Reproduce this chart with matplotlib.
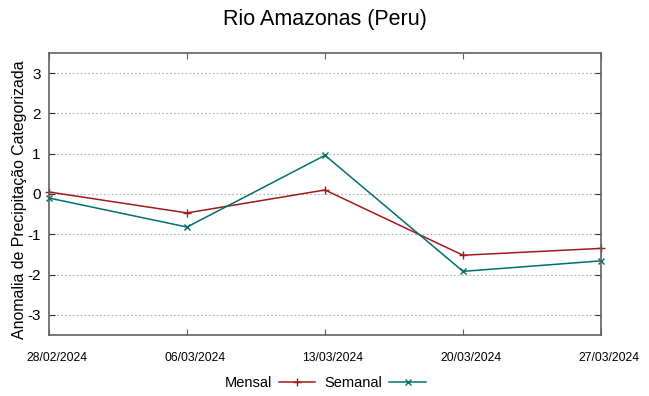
import numpy as np
import matplotlib.pyplot as plt
import matplotlib.transforms as mtransforms
from datetime import datetime

plt.rcParams['font.family'] = ['Liberation Sans', 'DejaVu Sans']

# Dados
datas = ['28/02/2024', '06/03/2024', '13/03/2024', '20/03/2024', '27/03/2024']
mensal = [0.05, -0.47, 0.10, -1.52, -1.35]
semanal = [-0.10, -0.82, 0.96, -1.92, -1.66]
yticks = [-3, -2, -1, 0, 1, 2, 3]

x = [datetime.strptime(d, '%d/%m/%Y') for d in datas]

fig = plt.figure(figsize=(6.49, 3.96), dpi=100)
ax = fig.add_axes([49 / 649, 1 - 335 / 396, (601 - 49) / 649, (335 - 53) / 396])

ax.plot(x, mensal, color='#a01a1a', lw=1.1, marker='+', ms=6, mew=1.0,
        label='Mensal', clip_on=False)
ax.plot(x, semanal, color='#00706b', lw=1.1, marker='x', ms=5, mew=1.0,
        label='Semanal', clip_on=False)

ax.set_xlim(x[0], x[-1])
ax.set_ylim(-3.5, 3.5)
ax.set_xticks(x)
ax.set_xticklabels(datas, fontsize=8.7)
ax.set_yticks(yticks)
ax.set_yticklabels([str(v) for v in yticks], fontsize=11)
ax.grid(axis='y', color='#b0b0b0', linestyle=(0, (1.5, 2)), lw=0.8)
ax.tick_params(axis='x', direction='in', top=True, length=4, pad=12, color='#606060')
ax.tick_params(axis='y', direction='in', right=True, length=4, pad=6, color='#303030')
for s in ax.spines.values():
    s.set_color('#606060')
    s.set_linewidth(1.2)

# rótulos do eixo x deslocados um pouco para a direita (como no gnuplot)
desloc = mtransforms.ScaledTranslation(8 / 100, 0, fig.dpi_scale_trans)
for lbl in ax.get_xticklabels():
    lbl.set_transform(lbl.get_transform() + desloc)

ax.set_title('Rio Amazonas (Peru)', fontsize=15.5, pad=20)
ax.set_ylabel('Anomalia de Precipitação Categorizada', fontsize=11.4)
ax.yaxis.set_label_coords(-0.040, 0.48)

leg = ax.legend(loc='upper center', bbox_to_anchor=(0.5, -0.1), ncol=2,
                frameon=False, fontsize=10.5, markerfirst=False,
                handlelength=2.5, columnspacing=0.6, handletextpad=0.5)

plt.savefig('out.png', dpi=100)
